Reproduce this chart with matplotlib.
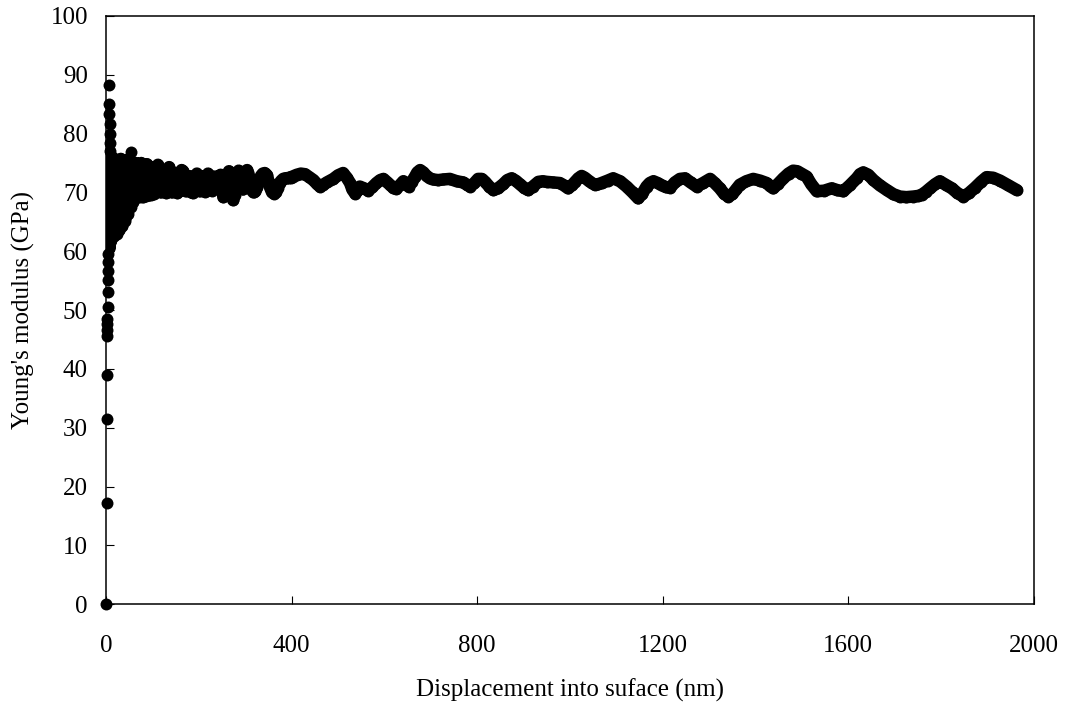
import matplotlib.pyplot as plt

plt.rcParams['font.family'] = ['Liberation Serif', 'DejaVu Serif']

# scattered start-up points (shown as separate dots)
spike_disp = [0.0, 1.4, 1.6, 2.0, 2.3, 2.6, 2.9, 3.2, 3.5, 3.8, 4.1, 4.4, 4.7, 5.0,
              6.5, 7.0, 7.5, 8.0, 8.5, 9.0, 9.5, 54.5]
spike_mod = [0.0, 17.2, 31.5, 39.0, 45.6, 46.6, 47.6, 48.5, 50.5, 53.0, 55.2, 56.6, 58.2, 59.6,
             88.3, 85.0, 83.4, 81.7, 80.0, 78.4, 77.0, 76.8]

# displacement into surface (nm) and Young's modulus (GPa)
disp = [5.5, 6, 6.5, 7, 7.5, 8, 8.5, 9, 9.5, 10, 10.5, 11, 11.5, 12, 12.5, 13,
        14, 15.5, 17, 18.5, 20, 21.5, 23, 24.5, 26, 27.5, 29, 30.5, 32, 33.5, 35, 36.5,
        38, 39.5, 41, 42.5, 44, 45.5, 47, 48.5, 50, 51.5, 53, 56, 57.5, 59, 60.5, 62,
        64, 66, 68, 70, 72, 74, 76, 78, 80, 82, 84, 86, 88, 90, 92, 94, 96, 98, 100,
        102, 104, 106, 109, 112, 115, 118, 121, 124, 127, 130, 133, 136, 139, 142, 145,
        148, 151, 154, 157, 160, 163, 166, 169, 172, 175, 178, 181, 184, 187, 190, 193,
        196, 199, 202, 205, 208, 211, 214, 217, 220, 223, 226, 229, 232, 235, 238, 241,
        244, 247, 250, 253, 256, 259, 262, 265, 268, 271, 274, 277, 280, 283, 286, 289,
        292, 295, 298, 301, 304, 307, 310, 314, 318, 322, 326, 330, 334, 338, 342, 346,
        350, 354, 358, 362, 366, 370, 374, 378, 382, 386, 390, 394, 398,
        402, 411, 420, 429, 438, 447, 454, 461, 468, 476, 490, 500, 511, 519, 526, 531,
        537, 542, 547, 556, 565, 574, 583, 591, 598, 605, 612, 619, 626, 634, 641, 646,
        652, 659, 666, 671, 677, 684, 691, 698, 705, 716, 727, 741, 756, 770, 778, 785,
        794, 802, 810, 817, 826, 835, 845, 856, 865, 874, 883, 892, 901, 910, 920, 932,
        941, 950, 964, 978, 987, 996, 1004, 1011, 1018, 1025, 1032, 1040, 1047, 1054,
        1061, 1068, 1081, 1093, 1108, 1122, 1135, 1147, 1156, 1165, 1172, 1180, 1189,
        1198, 1207, 1216, 1226, 1237, 1248, 1260, 1273, 1287, 1302, 1312, 1323, 1332,
        1341, 1350, 1358, 1366, 1380, 1395, 1410, 1424, 1431, 1438, 1449, 1460, 1471,
        1481, 1490, 1499, 1510, 1520, 1532, 1548, 1564, 1576, 1589, 1603, 1618, 1625,
        1632, 1643, 1654, 1668, 1683, 1697, 1711, 1725, 1740, 1750, 1758, 1767, 1776,
        1787, 1797, 1810, 1823, 1835, 1848, 1860, 1873, 1886, 1898, 1912, 1927, 1945, 1963]
modulus = [61.0, 74.5, 62.5, 76.0, 60.5, 72.0, 64.0, 75.5, 61.5, 70.0, 66.0, 76.2, 62.0, 73.5, 65.0, 75.4,
           75.4, 66.0, 62.6, 71.0, 75.6, 68.0, 63.0, 72.0, 75.3, 67.0, 63.6, 70.5, 75.7, 69.0, 64.3, 72.5,
           75.2, 68.0, 65.2, 71.0, 75.5, 69.0, 66.3, 72.8, 75.3, 70.0, 67.5, 71.5, 68.3, 74.8, 71.0, 69.0,
           75.0, 72.0, 69.2, 74.6, 71.0, 69.3, 75.0, 72.5, 69.2, 74.4, 71.5, 69.4, 74.8, 72.0, 69.5, 74.3, 71.0, 69.6, 74.0,
           71.5, 69.8, 72.5, 74.3, 74.7, 72.0, 70.0, 71.5, 73.8, 72.0, 69.9, 72.5, 74.3, 72.5, 70.0, 71.8,
           73.3, 71.5, 69.9, 71.5, 73.0, 73.8, 73.6, 71.8, 70.2, 71.0, 72.8, 71.5, 70.0, 69.9, 71.2, 72.8,
           73.2, 71.8, 70.2, 71.3, 72.7, 71.5, 70.1, 71.4, 73.2, 72.5, 71.0, 70.3, 71.5, 72.7, 72.3, 71.2,
           72.5, 73.0, 71.3, 69.2, 70.5, 71.5, 73.0, 73.6, 72.0, 69.8, 68.7, 69.5, 71.5, 73.3, 73.7, 72.8,
           71.0, 70.5, 71.8, 73.3, 73.8, 73.2, 71.5, 70.4, 70.0, 70.2, 71.0, 72.0, 72.8, 73.2, 73.3, 73.0,
           72.0, 70.8, 70.0, 69.8, 70.0, 70.8, 71.6, 72.0, 72.3, 72.4, 72.4, 72.5, 72.5,
           72.7, 73.0, 73.2, 73.1, 72.6, 72.1, 71.5, 71.0, 71.3, 71.7, 72.3, 72.9, 73.3, 72.5, 71.6, 70.5,
           69.8, 70.3, 71.0, 70.7, 70.3, 70.9, 71.6, 72.1, 72.3, 71.8, 71.3, 70.8, 70.6, 71.3, 71.9, 71.5,
           71.0, 71.8, 72.7, 73.4, 73.8, 73.4, 72.8, 72.4, 72.2, 72.1, 72.2, 72.3, 71.9, 71.7, 71.3, 71.0,
           71.6, 72.3, 72.3, 71.8, 71.0, 70.4, 70.7, 71.4, 72.1, 72.4, 72.0, 71.4, 70.8, 70.4, 71.0, 71.8,
           71.9, 71.8, 71.7, 71.6, 71.2, 70.7, 71.2, 71.8, 72.4, 72.8, 72.5, 72.0, 71.6, 71.3,
           71.4, 71.6, 72.0, 72.4, 71.9, 71.0, 70.0, 69.0, 69.8, 71.0, 71.6, 71.9, 71.6,
           71.2, 70.9, 70.8, 71.7, 72.3, 72.4, 71.7, 71.0, 71.6, 72.3, 71.6, 70.7, 69.8,
           69.3, 69.7, 70.5, 71.3, 71.9, 72.3, 72.0, 71.6, 71.1, 70.7, 71.5, 72.4, 73.2,
           73.7, 73.6, 73.2, 72.7, 71.4, 70.2, 70.3, 70.7, 70.4, 70.2, 71.2, 72.4, 73.1,
           73.4, 73.0, 72.1, 71.2, 70.4, 69.7, 69.3, 69.2, 69.3, 69.4, 69.6, 70.1, 70.7,
           71.4, 71.9, 71.3, 70.7, 69.9, 69.3, 69.9, 70.8, 71.8, 72.6, 72.5, 72.0, 71.2, 70.4]

fig = plt.figure(figsize=(10.74, 7.08), dpi=100)
ax = fig.add_axes([0.0987, 0.1465, 0.864, 0.831])

ax.plot(disp, modulus, '-o', color='black', lw=9.0, ms=8.6, mew=0,
        solid_capstyle='round', solid_joinstyle='round')
ax.plot(spike_disp, spike_mod, 'o', color='black', ms=8.6, mew=0, clip_on=False)

ax.set_xlim(0, 2000)
ax.set_ylim(0, 100)
ax.set_xticks(range(0, 2001, 400))
ax.set_yticks(range(0, 101, 10))
ax.tick_params(axis='x', direction='in', length=5.8, width=0.8, pad=22, labelsize=18)
ax.tick_params(axis='y', direction='in', length=5.8, width=0.8, pad=13, labelsize=18)
for s in ax.spines.values():
    s.set_linewidth(1.1)

ax.set_xlabel("Displacement into suface (nm)", fontsize=18)
ax.set_ylabel("Young's modulus (GPa)", fontsize=18)
ax.xaxis.set_label_coords(0.5, -0.127)
ax.yaxis.set_label_coords(-0.0765, 0.5)

fig.savefig('out.png', dpi=100)
